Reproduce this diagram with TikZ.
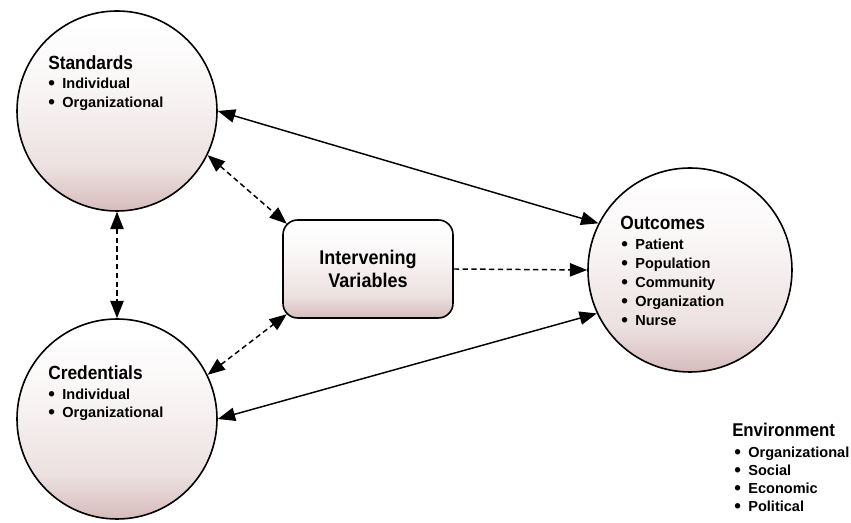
\documentclass[tikz,border=0pt]{standalone}
\usepackage{fontspec}
\usepackage{graphicx}
\setmainfont{Liberation Sans}
\usetikzlibrary{arrows.meta,calc}

\definecolor{rosedeep}{RGB}{214,188,187}
\definecolor{rosemid}{RGB}{236,224,224}
\definecolor{rosepale}{RGB}{249,245,245}

% fill of the circles and the box: white at the top, fading to a dusty rose at the bottom
\pgfdeclareverticalshading{rosefade}{100bp}{%
  color(0bp)=(rosedeep); color(25bp)=(rosedeep); color(36bp)=(rosemid);
  color(56bp)=(rosepale); color(72bp)=(white); color(100bp)=(white)}

% headings are set slightly tall
\newcommand{\tall}[1]{\scalebox{1}[1.1]{#1}}
\newcommand{\itm}[1]{\raisebox{-0.2pt}{\scalebox{1.3}{\textbullet}}\hspace{5.6pt}#1}

\tikzset{
  topic/.style={circle, draw=black, line width=1.2pt, shading=rosefade,
    minimum size=150pt, inner sep=0pt},
  midbox/.style={rectangle, rounded corners=11pt, draw=black, line width=1.2pt,
    shading=rosefade, minimum width=127.5pt, minimum height=73.5pt, inner sep=0pt},
  heading/.style={anchor=base west, inner sep=0pt, font=\bfseries\fontsize{13}{15}\selectfont},
  entry/.style={anchor=base west, inner sep=0pt, font=\bfseries\fontsize{10.9}{13}\selectfont},
  boxtext/.style={anchor=base, inner sep=0pt, font=\bfseries\fontsize{13.5}{16}\selectfont},
  link/.style={line width=1.1pt, {Triangle[length=13pt,width=10pt]}-{Triangle[length=13pt,width=10pt]}},
  onelink/.style={line width=1.1pt, -{Triangle[length=13pt,width=10pt]}},
  dashlink/.style={dash pattern=on 4pt off 2.6pt}
}

\begin{document}
\begin{tikzpicture}[x=0.75pt,y=-0.75pt]
\useasboundingbox (0,0) rectangle (851,523);

% the four main elements
\node[topic] (std) at (117,111) {};
\node[topic] (cred) at (117,419) {};
\node[topic, minimum size=153pt] (out) at (690,270) {};
\node[midbox] (iv) at (368,269) {};

% points on the rounded corners of the box
\coordinate (ivnw) at ($(iv.north west)+(4.6,4.6)$);
\coordinate (ivsw) at ($(iv.south west)+(4.6,-4.6)$);

% labels inside the box
\node[boxtext] (iv-a) at (368,265) {\tall{Intervening}};
\node[boxtext] (iv-b) at (368,288) {\tall{Variables}};

% Standards
\node[heading] (std-t) at (48,70) {\tall{Standards}};
\node[entry] (std-1) at (48,89) {\itm{Individual}};
\node[entry] (std-2) at (48,108) {\itm{Organizational}};

% Credentials
\node[heading] (cred-t) at (48,380) {\tall{Credentials}};
\node[entry] (cred-1) at (48,400) {\itm{Individual}};
\node[entry] (cred-2) at (48,418) {\itm{Organizational}};

% Outcomes
\node[heading] (out-t) at (620,230) {\tall{Outcomes}};
\node[entry] (out-1) at (621,250) {\itm{Patient}};
\node[entry] (out-2) at (621,269) {\itm{Population}};
\node[entry] (out-3) at (621,288) {\itm{Community}};
\node[entry] (out-4) at (621,307) {\itm{Organization}};
\node[entry] (out-5) at (621,326) {\itm{Nurse}};

% Environment
\node[heading, font=\bfseries\fontsize{12.6}{15}\selectfont] (env-t) at (732,437) {\tall{Environment}};
\node[entry] (env-1) at (734,458) {\itm{Organizational}};
\node[entry] (env-2) at (734,476) {\itm{Social}};
\node[entry] (env-3) at (734,494) {\itm{Economic}};
\node[entry] (env-4) at (734,512) {\itm{Political}};

% connectors
\draw[link] (std.east) -- (out.153.7);
\draw[link] (cred.east) -- (out.205.3);
\draw[link, dashlink] (std.south) -- (cred.north);
\draw[link, dashlink] (std.-26) -- (ivnw);
\draw[link, dashlink] (cred.26.8) -- (ivsw);
\draw[onelink, dashlink] (iv.east) -- (out.west);
\end{tikzpicture}
\end{document}
